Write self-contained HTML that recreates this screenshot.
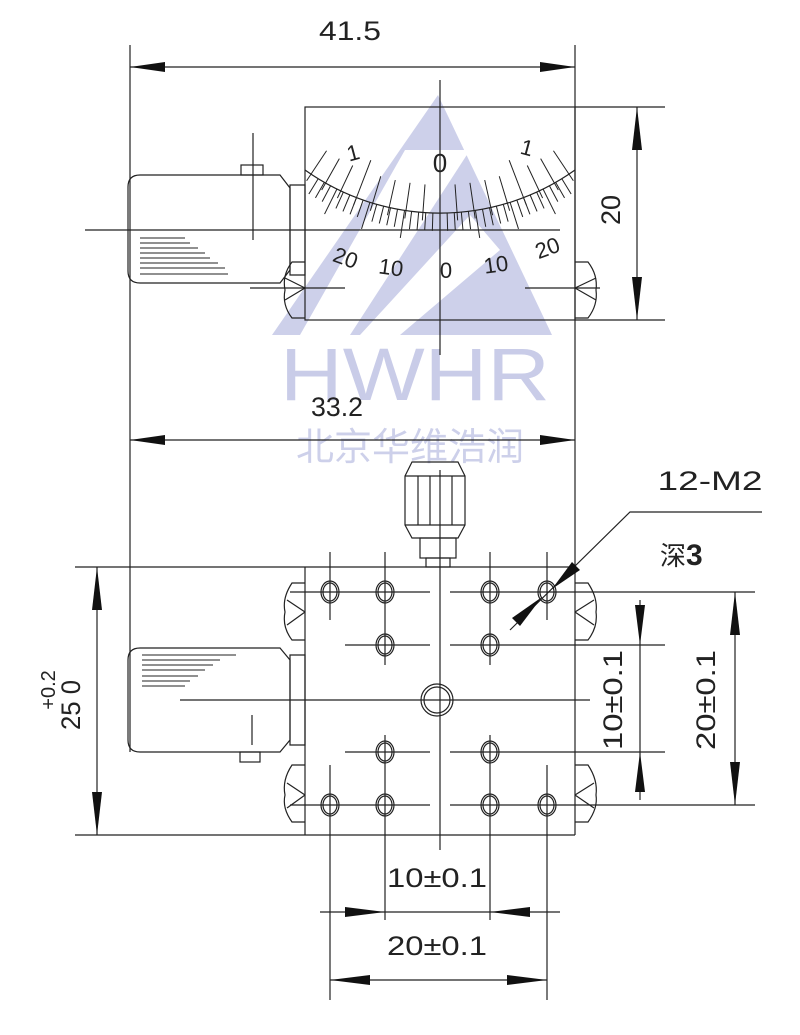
<!DOCTYPE html>
<html><head><meta charset="utf-8"><style>
html,body{margin:0;padding:0;background:#fff}
svg{display:block}
text{font-family:"Liberation Sans","Noto Sans CJK SC",sans-serif;fill:#222}
</style></head><body>
<svg id="s" width="800" height="1035" viewBox="0 0 800 1035" xmlns="http://www.w3.org/2000/svg">
<g fill="#cdd0ea">
<polygon points="438,95 272,335 552,335"/>
</g>
<g fill="#fff">
<polygon points="405,150 470,150 350,335 300,335"/>
<polygon points="470,215 500,250 400,335 360,335"/>
</g>
<text x="415" y="400" font-size="74" text-anchor="middle" style="fill:#c9cce8" textLength="270" lengthAdjust="spacingAndGlyphs">HWHR</text>
<text x="410" y="460" font-size="38" text-anchor="middle" style="fill:#cdd0ea">北京华维浩润</text>

<g stroke="#222" stroke-width="1.2" fill="none">
<line x1="130" y1="45" x2="130" y2="752"/>
<line x1="575" y1="45" x2="575" y2="567"/>
<line x1="130" y1="67" x2="575" y2="67"/>
<rect x="305" y="107" width="270" height="213"/>
<line x1="575" y1="107" x2="665" y2="107"/>
<line x1="575" y1="320" x2="665" y2="320"/>
<line x1="637" y1="107" x2="637" y2="320"/>
<line x1="85" y1="230" x2="560" y2="230"/>
<line x1="440" y1="80" x2="440" y2="355"/>
<path d="M305,170 A233,233 0 0 0 575,170"/>
<g id="ticks" stroke-width="1"></g>
<path d="M290,185 H305 V275 H290 Z"/>
<path d="M140,175 H280 L290,188 V270 L280,283 H140 Q128,283 128,271 V187 Q128,175 140,175 Z"/>
<rect x="241" y="165" width="22" height="10"/>
<line x1="253" y1="133" x2="253" y2="240"/>
<g stroke-width="1">
<line x1="140" y1="238" x2="185" y2="238"/><line x1="140" y1="243" x2="190" y2="243"/>
<line x1="140" y1="248" x2="198" y2="248"/><line x1="140" y1="253" x2="205" y2="253"/>
<line x1="140" y1="258" x2="210" y2="258"/><line x1="140" y1="263" x2="218" y2="263"/>
<line x1="140" y1="268" x2="225" y2="268"/><line x1="140" y1="274" x2="228" y2="274"/>
</g>
<path d="M305,262 H292 Q282,275 285,290 Q282,305 292,318 H305"/>
<path d="M305,288 L285,278 M305,288 L285,300"/>
<path d="M575,262 H588 Q598,275 596,290 Q598,305 588,318 H575"/>
<path d="M575,288 L596,278 M575,288 L596,300"/>
<line x1="250" y1="288" x2="345" y2="288"/>
<line x1="525" y1="288" x2="600" y2="288"/>

<line x1="130" y1="440" x2="575" y2="440"/>
<line x1="75" y1="567" x2="575" y2="567"/>
<line x1="75" y1="835" x2="575" y2="835"/>
<line x1="305" y1="567" x2="305" y2="835"/>
<line x1="575" y1="567" x2="575" y2="835"/>
<line x1="97" y1="567" x2="97" y2="835"/>
<path d="M412,462 H458 L465,476 V525 L458,538 H412 L405,525 V476 Z"/>
<line x1="405" y1="476" x2="465" y2="476"/><line x1="405" y1="525" x2="465" y2="525"/>
<line x1="418" y1="476" x2="418" y2="525"/><line x1="430" y1="476" x2="430" y2="525"/>
<line x1="452" y1="476" x2="452" y2="525"/>
<rect x="420" y="538" width="36" height="20"/>
<rect x="426" y="558" width="24" height="9"/>
<line x1="440" y1="470" x2="440" y2="850"/>
<circle cx="437" cy="700" r="16"/><circle cx="437" cy="700" r="13"/>
<line x1="180" y1="700" x2="590" y2="700"/>
<path d="M290,655 H305 V745 H290 Z"/>
<path d="M140,648 H280 L290,660 V740 L280,752 H140 Q128,752 128,740 V660 Q128,648 140,648 Z"/>
<rect x="240" y="752" width="20" height="10"/>
<line x1="252" y1="715" x2="252" y2="745"/>
<g stroke-width="1">
<line x1="142" y1="655" x2="236" y2="655"/><line x1="142" y1="660" x2="220" y2="660"/>
<line x1="142" y1="665" x2="213" y2="665"/><line x1="142" y1="670" x2="205" y2="670"/>
<line x1="142" y1="676" x2="198" y2="676"/><line x1="142" y1="681" x2="190" y2="681"/>
<line x1="142" y1="686" x2="185" y2="686"/>
</g>
<path d="M305,583 H292 Q282,598 285,612 Q282,627 292,640 H305"/>
<path d="M305,612 L287,600 M305,612 L287,625"/>
<path d="M575,583 H588 Q598,598 596,612 Q598,627 588,640 H575"/>
<path d="M575,612 L594,600 M575,612 L594,625"/>
<path d="M305,765 H292 Q282,780 285,795 Q282,808 292,822 H305"/>
<path d="M305,795 L287,783 M305,795 L287,808"/>
<path d="M575,765 H588 Q598,780 596,795 Q598,808 588,822 H575"/>
<path d="M575,795 L594,783 M575,795 L594,808"/>
<line x1="290" y1="592" x2="430" y2="592"/><line x1="450" y1="592" x2="755" y2="592"/>
<line x1="290" y1="805" x2="430" y2="805"/><line x1="450" y1="805" x2="755" y2="805"/>
<line x1="345" y1="645" x2="430" y2="645"/><line x1="450" y1="645" x2="665" y2="645"/>
<line x1="345" y1="752" x2="430" y2="752"/><line x1="450" y1="752" x2="665" y2="752"/>
<line x1="330" y1="552" x2="330" y2="620"/><line x1="330" y1="765" x2="330" y2="1000"/>
<line x1="385" y1="552" x2="385" y2="665"/><line x1="385" y1="735" x2="385" y2="920"/>
<line x1="490" y1="552" x2="490" y2="665"/><line x1="490" y1="735" x2="490" y2="920"/>
<line x1="547" y1="552" x2="547" y2="620"/><line x1="547" y1="765" x2="547" y2="1000"/>
<g id="holes"></g>
<line x1="640" y1="600" x2="640" y2="800"/>
<line x1="735" y1="592" x2="735" y2="805"/>
<line x1="320" y1="912" x2="560" y2="912"/>
<line x1="330" y1="980" x2="547" y2="980"/>
<polyline points="510,630 630,512 762,512"/>
</g>
<g fill="#111">
<polygon points="130,67 165,62 165,72"/><polygon points="575,67 540,62 540,72"/>
<polygon points="637,107 632,150 642,150"/><polygon points="637,320 632,277 642,277"/>
<polygon points="130,440 165,435 165,445"/><polygon points="575,440 540,435 540,445"/>
<polygon points="97,567 92,610 102,610"/><polygon points="97,835 92,792 102,792"/>
<polygon points="640,645 635,605 645,605"/><polygon points="640,752 635,792 645,792"/>
<polygon points="735,592 730,635 740,635"/><polygon points="735,805 730,762 740,762"/>
<polygon points="385,912 345,907 345,917"/><polygon points="490,912 530,907 530,917"/>
<polygon points="330,980 370,975 370,985"/><polygon points="547,980 507,975 507,985"/>
<polygon points="552,589 572,562 580,570"/>
<polygon points="542,597 512,618 520,626"/>
</g>
<g font-size="27">
<text x="350" y="40" text-anchor="middle" textLength="62" lengthAdjust="spacingAndGlyphs">41.5</text>
<text x="337" y="416" text-anchor="middle" textLength="52" lengthAdjust="spacingAndGlyphs">33.2</text>
<text x="710" y="490" text-anchor="middle" textLength="105" lengthAdjust="spacingAndGlyphs">12-M2</text>
<text x="437" y="887" text-anchor="middle" textLength="100" lengthAdjust="spacingAndGlyphs">10±0.1</text>
<text x="437" y="955" text-anchor="middle" textLength="100" lengthAdjust="spacingAndGlyphs">20±0.1</text>
<text transform="translate(620,210) rotate(-90)" text-anchor="middle">20</text>
<text transform="translate(622,700) rotate(-90)" text-anchor="middle" textLength="100" lengthAdjust="spacingAndGlyphs">10±0.1</text>
<text transform="translate(715,700) rotate(-90)" text-anchor="middle" textLength="100" lengthAdjust="spacingAndGlyphs">20±0.1</text>
<text transform="translate(80,705) rotate(-90)" text-anchor="middle" textLength="50" lengthAdjust="spacingAndGlyphs">25 0</text>
<text transform="translate(55,690) rotate(-90)" text-anchor="middle" font-size="20">+0.2</text>
</g>
<text x="660" y="565" font-size="26">深<tspan font-size="30" font-weight="bold">3</tspan></text>
<g font-size="22">
<text x="440" y="172" text-anchor="middle" font-size="26">0</text>
<text x="355" y="160" text-anchor="middle" transform="rotate(-15 355 160)">1</text>
<text x="525" y="155" text-anchor="middle" transform="rotate(15 525 155)">1</text>
<text x="343" y="265" text-anchor="middle" transform="rotate(20 343 265)">20</text>
<text x="390" y="275" text-anchor="middle" transform="rotate(8 390 275)">10</text>
<text x="446" y="278" text-anchor="middle">0</text>
<text x="497" y="272" text-anchor="middle" transform="rotate(-8 497 272)">10</text>
<text x="550" y="255" text-anchor="middle" transform="rotate(-20 550 255)">20</text>
</g>
</svg>
<script>
var NS="http://www.w3.org/2000/svg",t=document.getElementById("ticks"),cx=440,cy=-20,R=233;
function ln(g,x1,y1,x2,y2){var l=document.createElementNS(NS,"line");l.setAttribute("x1",x1);l.setAttribute("y1",y1);l.setAttribute("x2",x2);l.setAttribute("y2",y2);g.appendChild(l);}
for(var i=-8;i<=8;i++){var a=i*4.2*Math.PI/180,s=Math.sin(a),c=Math.cos(a);var r1=R-(i%5==0?40:28);ln(t,cx+r1*s,cy+r1*c,cx+(R+8)*s,cy+(R+8)*c);}
for(var i=-20;i<=20;i++){var a=i*1.75*Math.PI/180,s=Math.sin(a),c=Math.cos(a);var r2=R+(i%5==0?28:18);if(Math.abs(cx+r2*s-440)<136)ln(t,cx+R*s,cy+R*c,cx+r2*s,cy+r2*c);}
var h=document.getElementById("holes");
[[330,592],[385,592],[490,592],[547,592],[385,645],[490,645],[385,752],[490,752],[330,805],[385,805],[490,805],[547,805]].forEach(function(p){
[9,7].forEach(function(r){var e=document.createElementNS(NS,"ellipse");e.setAttribute("cx",p[0]);e.setAttribute("cy",p[1]);e.setAttribute("rx",r);e.setAttribute("ry",r+2);h.appendChild(e);});});
</script>
</body></html>
